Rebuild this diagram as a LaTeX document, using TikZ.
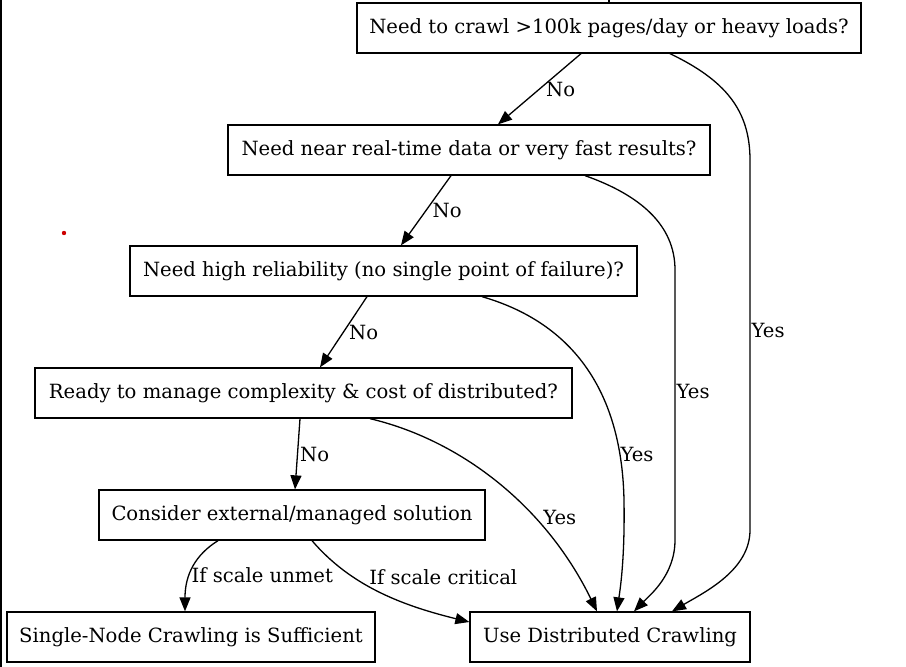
\documentclass[tikz,border=0pt]{standalone}
\usepackage{fontspec}
\setmainfont{DejaVu Serif}
\usetikzlibrary{arrows.meta}
\tikzstyle{box} = [draw, line width=1.3pt, minimum height=50pt, inner xsep=0pt, text centered, align=center, font=\fontsize{19.6}{23}\selectfont]
\tikzstyle{lbl} = [inner sep=1pt, font=\fontsize{19.6}{23}\selectfont]
\tikzstyle{arr} = [line width=1.3pt, -{Triangle[length=14pt,width=11pt]}]

\begin{document}
\begin{tikzpicture}[x=1pt, y=-1pt]
        \useasboundingbox (0,0) rectangle (906,667);
        \draw[line width=2pt] (1,0) -- (1,667);
        \fill[red!80!black] (64,233) circle (2.2);

        \node[box, minimum width=504pt] (crawl) at (609,28) {Need to crawl >100k pages/day or heavy loads?};
        \node[box, minimum width=482pt] (fast) at (469,150) {Need near real-time data or very fast results?};
        \node[box, minimum width=507pt] (reliab) at (383.5,271) {Need high reliability (no single point of failure)?};
        \node[box, minimum width=537pt] (ready) at (303.5,393) {Ready to manage complexity \& cost of distributed?};
        \node[box, minimum width=386pt] (extern) at (292,515) {Consider external/managed solution};
        \node[box, minimum width=368pt] (single) at (191,637) {Single-Node Crawling is Sufficient};
        \node[box, minimum width=280pt] (distrib) at (610,637) {Use Distributed Crawling};

        \coordinate (incoming) at (609,0);
        \draw[line width=1.3pt] (incoming) -- (crawl);

        % No branch
        \draw[arr] ([xshift=-28pt]crawl.south) -- node[lbl, anchor=west, xshift=5pt]{No} ([xshift=29pt]fast.north);
        \draw[arr] ([xshift=-18pt]fast.south) -- node[lbl, anchor=west, xshift=5pt]{No} ([xshift=17.5pt]reliab.north);
        \draw[arr] ([xshift=-16.5pt]reliab.south) -- node[lbl, anchor=west, xshift=4pt]{No} ([xshift=16.5pt]ready.north);
        \draw[arr] ([xshift=-3.5pt]ready.south) -- node[lbl, anchor=west, xshift=1pt]{No} ([xshift=3pt]extern.north);

        % Yes branch
        \draw[arr] ([xshift=61pt]crawl.south) .. controls (725,80) and (750,110) .. (750,160)
            -- node[lbl, anchor=west, pos=0.46]{Yes} (750,530) .. controls (750,570) and (705,592) .. ([xshift=62pt]distrib.north);
        \draw[arr] ([xshift=116pt]fast.south) .. controls (640,195) and (675,225) .. (675,270)
            -- node[lbl, anchor=west, pos=0.45]{Yes} (675,540) .. controls (675,575) and (650,595) .. ([xshift=24pt]distrib.north);
        \draw[arr] ([xshift=98.5pt]reliab.south) .. controls (580,325) and (622,400) .. node[lbl, anchor=west, pos=0.84, xshift=-1pt]{Yes} (624,500)
            .. controls (625,560) and (620,590) .. ([xshift=7pt]distrib.north);
        \draw[arr] ([xshift=66.5pt]ready.south) .. controls (460,440) and (545,505) .. node[lbl, anchor=west, pos=0.66, xshift=8pt]{Yes} ([xshift=-13pt]distrib.north);

        % last step
        \draw[arr] ([xshift=-74pt]extern.south) .. controls (195,555) and (185,575) .. node[lbl, anchor=west, pos=0.6]{If scale unmet} ([xshift=-6pt]single.north);
        \draw[arr] ([xshift=20pt]extern.south) .. controls (350,585) and (400,605) .. node[lbl, anchor=south west, pos=0.4, xshift=4pt, yshift=-3pt]{If scale critical} ([yshift=15pt]distrib.west);
    \end{tikzpicture}
\end{document}
